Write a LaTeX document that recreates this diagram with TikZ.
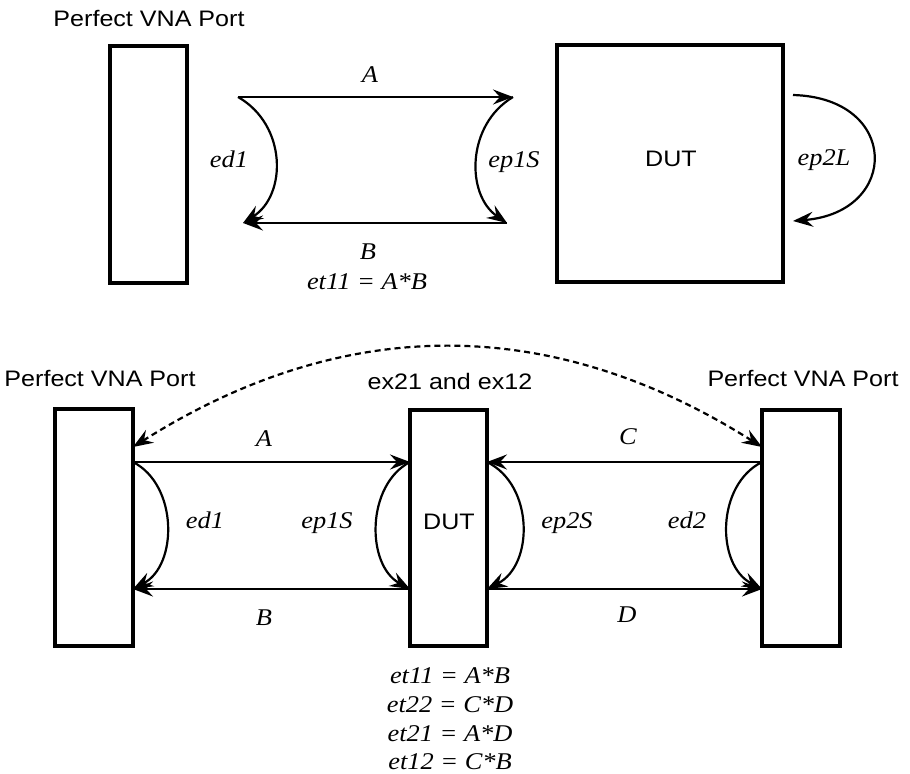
\documentclass[tikz,border=0pt]{standalone}
\usepackage{fontspec}
\setmainfont{Liberation Serif}[FakeStretch=1.1]
\setsansfont{Liberation Sans}[FakeStretch=1.12]
\usetikzlibrary{arrows.meta}
\begin{document}
\begin{tikzpicture}[x=0.5pt,y=-0.5pt,
  box/.style={draw, line width=1.8pt, inner sep=0pt, outer sep=0pt, fill=white},
  arr/.style={line width=1.1pt, -{Stealth[length=10pt,width=7.5pt,inset=3.5pt]}},
  darr/.style={line width=1.1pt, dash pattern=on 3pt off 2pt,
     {Stealth[length=10pt,width=7.5pt,inset=3.5pt]}-{Stealth[length=10pt,width=7.5pt,inset=3.5pt]}},
  sans/.style={font=\sffamily\fontsize{11.2}{13}\selectfont, anchor=base, inner sep=0pt},
  lab/.style={font=\itshape\fontsize{12}{14}\selectfont, anchor=base, inner sep=0pt}]
\useasboundingbox (0,0) rectangle (910,774);

% ---------------- top diagram ----------------
\node[box, minimum width=38.5pt, minimum height=118.5pt] (TP) at (148.5,164.5) {};
\node[box, minimum width=113pt, minimum height=118.5pt] (TD) at (670,163.5) {};
\node[sans] (tpl) at (149,27) {Perfect VNA Port};
\node[sans] (tdl) at (671,167) {DUT};

\coordinate (ta1) at (238,97);
\coordinate (ta2) at (513,97);
\coordinate (tb1) at (507,223);
\coordinate (tb2) at (243,223);
\coordinate (tl1) at (793,95);
\coordinate (tl2) at (793,221);

\draw[arr] (ta1) -- (ta2);
\draw[arr] (tb1) -- (tb2);
\draw[arr] (ta1) .. controls (287,125) and (287,195) .. (tb2);
\draw[arr] (ta2) .. controls (466,125) and (466,195) .. (tb1);
\draw[arr] (tl1) .. controls (900,98) and (900,212) .. (tl2);

\node[lab] (tA) at (370,83) {A};
\node[lab] (tB) at (368,260) {B};
\node[lab] (tE) at (367,290) {et11 = A*B};
\node[lab] (ted1) at (229,168) {ed1};
\node[lab] (tep1) at (514,168) {ep1S};
\node[lab] (tep2) at (824,166) {ep2L};

% ---------------- bottom diagram ----------------
\node[box, minimum width=39pt, minimum height=118.5pt] (LP) at (94,527.5) {};
\node[box, minimum width=38.5pt, minimum height=118pt] (DUT) at (448.5,528) {};
\node[box, minimum width=39pt, minimum height=118pt] (RP) at (801,528) {};

\node[sans] (lpl) at (100,387) {Perfect VNA Port};
\node[sans] (rpl) at (803,387) {Perfect VNA Port};
\node[sans] (dul) at (450,390) {ex21 and ex12};
\node[sans] (dut) at (449,530) {DUT};

\coordinate (LPa) at (LP.east |- 0,462);
\coordinate (LPb) at (LP.east |- 0,589);
\coordinate (LPd) at (LP.east |- 0,447);
\coordinate (DLa) at (DUT.west |- 0,462);
\coordinate (DLb) at (DUT.west |- 0,589);
\coordinate (DRa) at (DUT.east |- 0,462);
\coordinate (DRb) at (DUT.east |- 0,589);
\coordinate (RPa) at (RP.west |- 0,462);
\coordinate (RPb) at (RP.west |- 0,589);
\coordinate (RPd) at (RP.west |- 0,447);

\draw[darr] (LPd) .. controls (344,314) and (551,314) .. (RPd);

\draw[arr] (LPa) -- (DLa);
\draw[arr] (DLb) -- (LPb);
\draw[arr] (RPa) -- (DRa);
\draw[arr] (DRb) -- (RPb);

\draw[arr] (LPa) .. controls (178,485) and (178,565) .. (LPb);
\draw[arr] (DLa) .. controls (366,485) and (366,565) .. (DLb);
\draw[arr] (DRa) .. controls (534,485) and (534,565) .. (DRb);
\draw[arr] (RPa) .. controls (716,485) and (716,565) .. (RPb);

\node[lab] (bA) at (264,447) {A};
\node[lab] (bB) at (264,625) {B};
\node[lab] (bC) at (628,445) {C};
\node[lab] (bD) at (627,623) {D};
\node[lab] (bed1) at (205,529) {ed1};
\node[lab] (bep1) at (327,529) {ep1S};
\node[lab] (bep2) at (567,529) {ep2S};
\node[lab] (bed2) at (687,529) {ed2};

\node[lab] (e1) at (450,683) {et11 = A*B};
\node[lab] (e2) at (450,712) {et22 = C*D};
\node[lab] (e3) at (450,741) {et21 = A*D};
\node[lab] (e4) at (450,769) {et12 = C*B};
\end{tikzpicture}
\end{document}
